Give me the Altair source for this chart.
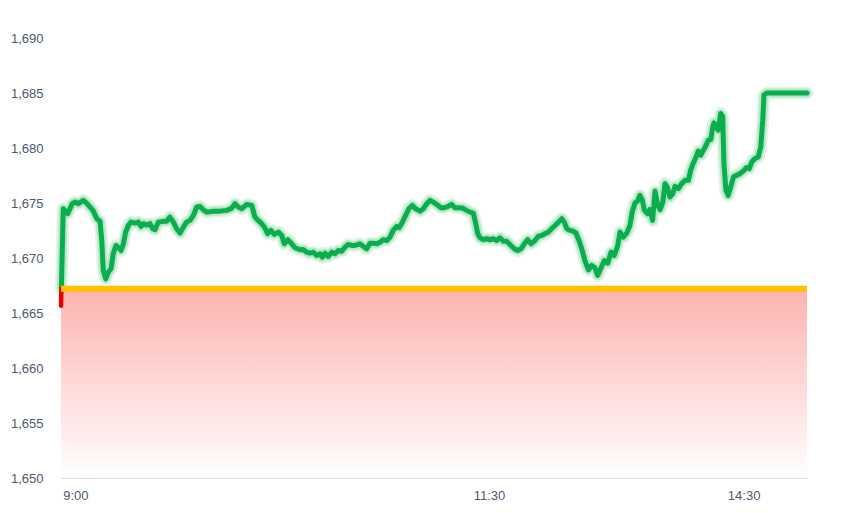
import altair as alt
import pandas as pd

# trading-time position (minutes from open, chart units) and price
minutes = [
    0.0, 0.9, 2.7, 4.5, 5.6, 7.0, 9.0, 10.3, 11.7, 13.0,
    14.4, 15.7, 16.4, 17.0, 18.0, 19.0, 20.1, 21.0, 22.1, 23.0,
    24.1, 25.1, 26.0, 27.1, 28.1, 29.8, 31.1, 32.2, 33.1, 34.5,
    35.8, 36.9, 37.8, 39.1, 41.1, 42.5, 43.8, 45.2, 46.5, 47.9,
    49.2, 50.5, 51.9, 53.2, 54.6, 55.9, 57.2, 58.6, 59.9, 61.2,
    63.9, 66.6, 68.4, 70.0, 71.3, 72.7, 74.7, 76.7, 78.0, 79.3,
    80.7, 82.0, 83.1, 84.4, 85.8, 87.4, 88.8, 89.8, 91.2, 92.8,
    94.1, 96.1, 97.4, 98.8, 100.1, 101.5, 102.8, 104.2, 105.1, 106.2,
    107.5, 108.9, 110.2, 111.5, 112.9, 114.2, 115.5, 116.9, 118.2, 120.2,
    121.6, 122.9, 124.3, 125.6, 127.0, 128.3, 129.6, 131.0, 132.3, 133.6,
    135.0, 136.0, 137.3, 138.6, 139.9, 141.3, 142.6, 144.4, 145.7, 147.1,
    148.4, 149.7, 151.1, 152.8, 154.1, 155.7, 157.1, 158.4, 159.8, 161.4,
    163.1, 164.5, 165.8, 166.8, 167.6, 168.5, 169.8, 171.2, 172.5, 173.8,
    175.2, 176.5, 177.9, 179.2, 180.5, 182.3, 183.6, 185.0, 186.3, 187.7,
    189.0, 190.6, 191.9, 193.3, 194.6, 196.0, 197.3, 198.7, 200.0, 201.4,
    202.4, 203.4, 204.7, 206.0, 207.1, 208.3, 209.4, 210.7, 212.1, 213.4,
    214.7, 215.8, 217.2, 218.5, 219.9, 221.2, 222.5, 223.9, 224.8, 226.1,
    227.5, 228.8, 229.7, 230.8, 231.9, 232.8, 233.8, 234.6, 235.9, 236.8,
    237.9, 238.9, 239.9, 240.9, 242.0, 242.9, 243.8, 244.9, 246.0, 246.9,
    248.3, 249.6, 251.0, 252.3, 253.2, 254.3, 255.4, 256.3, 257.3, 258.3,
    259.4, 260.3, 261.3, 262.1, 262.6, 263.4, 264.3, 265.3, 266.1, 266.6,
    267.4, 268.3, 269.3, 270.4, 271.7, 273.1, 274.4, 275.7, 276.8, 277.8,
    279.1, 280.4, 281.4, 282.2, 282.7, 283.8, 300.0,
]
prices = [
    1665.67, 1674.48, 1674.03, 1674.94, 1675.08, 1674.94, 1675.24, 1674.99, 1674.63, 1674.26,
    1673.57, 1673.35, 1671.59, 1668.86, 1668.10, 1668.71, 1669.02, 1670.38, 1671.14, 1670.98,
    1670.68, 1671.29, 1672.35, 1672.96, 1673.26, 1673.17, 1673.26, 1672.87, 1673.12, 1672.99,
    1673.12, 1672.66, 1672.57, 1673.26, 1673.33, 1673.35, 1673.72, 1673.26, 1672.66, 1672.26,
    1672.81, 1673.26, 1673.42, 1673.87, 1674.63, 1674.69, 1674.39, 1674.17, 1674.20, 1674.26,
    1674.26, 1674.33, 1674.48, 1674.94, 1674.63, 1674.48, 1674.87, 1674.78, 1673.72, 1673.42,
    1673.12, 1672.75, 1672.21, 1672.51, 1672.14, 1672.35, 1672.05, 1671.29, 1671.66, 1671.29,
    1670.93, 1670.75, 1670.77, 1670.53, 1670.44, 1670.53, 1670.23, 1670.38, 1670.07, 1670.44,
    1670.14, 1670.53, 1670.38, 1670.68, 1670.62, 1670.98, 1671.23, 1671.14, 1671.14, 1671.29,
    1671.05, 1670.84, 1671.35, 1671.35, 1671.29, 1671.44, 1671.66, 1671.59, 1671.89, 1672.51,
    1672.87, 1672.75, 1673.26, 1673.87, 1674.48, 1674.78, 1674.48, 1674.26, 1674.48, 1674.94,
    1675.24, 1675.08, 1674.87, 1674.57, 1674.57, 1674.69, 1674.87, 1674.57, 1674.57, 1674.54,
    1674.33, 1674.17, 1674.08, 1673.12, 1672.21, 1671.84, 1671.66, 1671.75, 1671.66, 1671.75,
    1671.59, 1671.84, 1671.53, 1671.53, 1671.23, 1670.84, 1670.68, 1670.84, 1671.29, 1671.66,
    1671.29, 1671.59, 1671.96, 1672.05, 1672.21, 1672.35, 1672.66, 1672.96, 1673.26, 1673.57,
    1673.26, 1672.66, 1672.51, 1672.44, 1672.26, 1671.59, 1670.84, 1669.77, 1668.92, 1669.32,
    1669.11, 1668.41, 1669.11, 1669.77, 1669.53, 1670.53, 1670.23, 1671.14, 1672.35, 1671.89,
    1672.26, 1672.96, 1674.17, 1674.99, 1675.18, 1675.69, 1675.24, 1674.33, 1674.03, 1674.42,
    1673.42, 1676.06, 1674.87, 1674.39, 1675.08, 1676.76, 1676.45, 1675.54, 1675.85, 1676.51,
    1676.31, 1676.76, 1677.06, 1677.06, 1677.97, 1678.64, 1679.18, 1679.73, 1679.34, 1679.80,
    1680.25, 1680.71, 1680.77, 1681.92, 1682.28, 1681.92, 1681.62, 1683.14, 1682.83, 1678.58,
    1676.15, 1675.69, 1676.45, 1677.36, 1677.52, 1677.67, 1677.91, 1678.22, 1678.13, 1678.73,
    1679.04, 1679.18, 1680.10, 1682.53, 1684.81, 1685.00, 1685.00,
]

prev_close = 1667.2
y_min, y_max = 1650, 1690
y_ticks = [1650, 1655, 1660, 1665, 1670, 1675, 1680, 1685, 1690]
x_tick_pos = [5.8, 172.1, 274.5]
x_tick_labels = ["9:00", "11:30", "14:30"]
x_end = 300.0

# split series at the previous-close crossing: below = red, above = green
x0, x1 = minutes[0], minutes[1]
p0, p1 = prices[0], prices[1]
t = (prev_close - p0) / (p1 - p0)
xc = x0 + t * (x1 - x0)

red_df = pd.DataFrame({"t": [x0, xc], "price": [p0, prev_close]})
green_df = pd.DataFrame({"t": [xc] + minutes[1:], "price": [prev_close] + prices[1:]})
ref_df = pd.DataFrame({"t": [minutes[0], x_end], "price": [prev_close, prev_close], "low": [y_min, y_min]})

label_map = "{" + ",".join(f"'{p}':'{l}'" for p, l in zip(x_tick_pos, x_tick_labels)) + "}"

FONT = "Liberation Sans"
LABEL_COLOR = "#4d5a70"

x_scale = alt.Scale(domain=[0, x_end], nice=False, zero=False)
y_scale = alt.Scale(domain=[y_min, y_max], nice=False, zero=False)

x_axis = alt.Axis(
    values=x_tick_pos,
    labelExpr=f"{label_map}[toString(datum.value)]",
    title=None, grid=False, ticks=False,
    domain=True, domainColor="#d9d9d9", domainWidth=1,
    labelFont=FONT, labelFontSize=13, labelColor=LABEL_COLOR,
    labelPadding=11, labelFlush=False, labelAlign="center",
)
y_axis = alt.Axis(
    values=y_ticks, format=",d", title=None, grid=False, ticks=False,
    domain=False, labelFont=FONT, labelFontSize=13, labelColor=LABEL_COLOR,
    labelPadding=18,
)

X = alt.X("t:Q", scale=x_scale, axis=x_axis)
Y = alt.Y("price:Q", scale=y_scale, axis=y_axis)

area = alt.Chart(ref_df).mark_area(
    color=alt.Gradient(
        gradient="linear",
        stops=[alt.GradientStop(color="#ffffff", offset=0),
               alt.GradientStop(color="#fdb3b0", offset=1)],
        x1=1, x2=1, y1=1, y2=0,
    )
).encode(x=X, y=Y, y2="low:Q")

halo1 = alt.Chart(green_df).mark_line(
    color="#8fd9a3", strokeWidth=13, opacity=0.25, strokeJoin="round", strokeCap="round"
).encode(x=X, y=Y)

halo2 = alt.Chart(green_df).mark_line(
    color="#8fd9a3", strokeWidth=9, opacity=0.5, strokeJoin="round", strokeCap="round"
).encode(x=X, y=Y)

green = alt.Chart(green_df).mark_line(
    color="#0aae4e", strokeWidth=5, strokeJoin="round", strokeCap="round"
).encode(x=X, y=Y)

red = alt.Chart(red_df).mark_line(
    color="#e60000", strokeWidth=4.5, strokeCap="round"
).encode(x=X, y=Y)

ref_line = alt.Chart(ref_df).mark_line(
    color="#ffc000", strokeWidth=6
).encode(x=X, y=Y)

chart = alt.layer(area, halo1, halo2, green, red, ref_line).properties(
    width=746, height=440,
    autosize=alt.AutoSizeParams(type="none"),
    padding={"left": 53, "top": 30, "right": 25, "bottom": 25},
).configure(background="#ffffff").configure_view(stroke=None)

chart.save("out.html", embed_options={"renderer": "svg", "actions": False})
